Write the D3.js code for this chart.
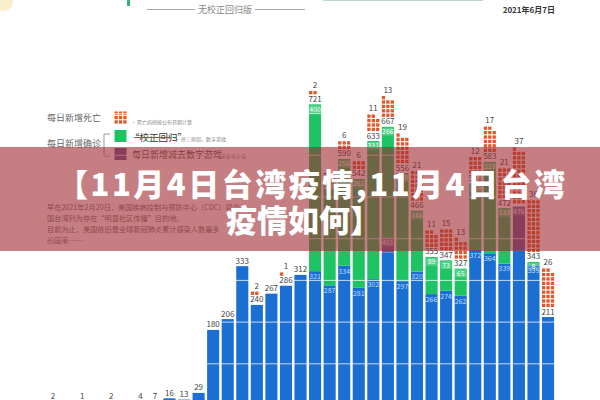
<!DOCTYPE html>
<html><head><meta charset="utf-8">
<script src="https://cdn.jsdelivr.net/npm/d3@7"></script>
<style>body{margin:0;background:#fff}svg{display:block}</style>
</head><body>
<svg id="c" width="600" height="400"></svg>
<script>
// ---------- data ----------
const dates = ["5/4","5/5","5/6","5/7","5/8","5/9","5/10","5/11","5/12","5/13","5/14","5/15","5/16","5/17","5/18","5/19","5/20","5/21","5/22","5/23","5/24","5/25","5/26","5/27","5/28","5/29","5/30","5/31","6/1","6/2","6/3","6/4","6/5","6/6","6/7"];
const localCases = [2,0,1,0,2,0,4,7,16,13,29,180,206,333,240,267,286,312,321,287,334,281,302,366,297,320,266,274,262,372,364,339,370,335,211];
const backlog    = [0,0,0,0,0,0,0,0,0,0,0,0,0,0,0,0,0,0,400,248,256,261,331,266,259,146,89,73,65,159,219,133,0,8,0];
const adjusted   = [0,0,0,0,0,0,0,0,0,0,0,0,0,0,0,0,0,0,0,0,0,0,0,35,0,0,0,0,0,0,0,0,106,0,0];
const deaths     = [0,0,0,0,0,0,0,0,0,0,0,0,0,0,2,0,1,0,2,0,6,6,11,13,19,21,11,15,13,12,17,21,37,36,26];
const gridTicks  = [100,200,300,400,500,600,700];

const C = {blue:"#1b6fd3", green:"#1ec464", purple:"#6b5b9e", orange:"#e2572b"};
const FONT = "'Noto Sans CJK SC','Noto Sans',sans-serif";

const svg = d3.select("#c").style("font-family", FONT);

const rows = dates.map((d,i)=>({date:d, blue:localCases[i], purple:adjusted[i], green:backlog[i], deaths:deaths[i]}));
const x = d3.scaleBand().domain(dates).range([45.72,555.32]).paddingInner(0.17).paddingOuter(0.085);
const y = d3.scaleLinear().domain([0,700]).range([405,113.1]);
const stack = d3.stack().keys(["blue","purple","green"])(rows);

// ---------- header ----------
const hdr = svg.append("g");
hdr.append("circle").attr("cx",4).attr("cy",2).attr("r",9).attr("fill","#f4e6a6").attr("opacity",0.6);
hdr.append("rect").attr("x",127).attr("y",0).attr("width",3).attr("height",6).attr("fill","#2bb673");
hdr.append("line").attr("x1",323).attr("x2",483).attr("y1",0.5).attr("y2",0.5).attr("stroke","#bcd8c8");
hdr.append("line").attr("x1",147).attr("x2",195).attr("y1",9.5).attr("y2",9.5).attr("stroke","#aaa");
hdr.append("line").attr("x1",255).attr("x2",305).attr("y1",9.5).attr("y2",9.5).attr("stroke","#aaa");
hdr.append("text").attr("x",225).attr("y",13).attr("text-anchor","middle").attr("font-size",9).attr("fill","#888").text("无校正回归版");
hdr.append("text").attr("x",555).attr("y",13).attr("text-anchor","end").attr("font-size",8).attr("font-weight","bold").attr("fill","#333").text("2021年6月7日");

// ---------- legend ----------
const lg = svg.append("g");
lg.append("text").attr("x",47).attr("y",121).attr("font-size",9).attr("fill","#666").text("每日新增死亡");
for(let r=0;r<3;r++)for(let c=0;c<3;c++)
  lg.append("rect").attr("x",114.5+c*4.4).attr("y",111.5+r*4.4).attr("width",3.3).attr("height",3.3).attr("fill",C.orange);
lg.append("text").attr("x",131).attr("y",124).attr("font-size",5).attr("fill","#888").text("• 死亡病例按公布日期计算");
lg.append("text").attr("x",47).attr("y",147).attr("font-size",9).attr("fill","#666").text("每日新增确诊");
lg.append("path").attr("d","M110,134H104V156H110").attr("fill","none").attr("stroke","#999");
lg.append("rect").attr("x",114.5).attr("y",130).attr("width",12).attr("height",12).attr("fill",C.green);
lg.append("text").attr("x",130).attr("y",141).attr("font-size",9.5).attr("fill","#333").text("“校正回归”");
lg.append("line").attr("x1",134).attr("x2",171).attr("y1",137.5).attr("y2",137.5).attr("stroke","#d23a3a").attr("stroke-width",1.2);
lg.append("text").attr("x",175).attr("y",141).attr("font-size",5).attr("fill","#888").text("• 修三原因，数字游戏");
lg.append("rect").attr("x",114.5).attr("y",148).attr("width",12).attr("height",12).attr("fill",C.purple);
lg.append("text").attr("x",132).attr("y",158).attr("font-size",9).attr("fill","#555").text("每日新增减去数字游戏");
lg.append("text").attr("x",215).attr("y",158).attr("font-size",5).attr("fill","#888").text("• 无参考价值");

const para = ["早在2021年2月20日，美国疾病控制与预防中心（CDC）将中",
              "国台湾列为存在“明显社区传播”目的地。",
              "目前为止，美国依旧是全球新冠肺炎累计感染人数最多",
              "的国家……"];
svg.append("g").selectAll("text").data(para).join("text")
  .attr("x",47).attr("y",(d,i)=>210+i*11).attr("font-size",7.2).attr("fill","#777").text(d=>d);

// ---------- bars ----------
const colorOf = {blue:C.blue, purple:C.purple, green:C.green};
svg.append("g").selectAll("g").data(stack).join("g").attr("fill",s=>colorOf[s.key])
  .selectAll("rect").data(s=>s.filter(d=>d[1]>d[0])).join("rect")
  .attr("x",d=>x(d.data.date)).attr("width",x.bandwidth())
  .attr("y",d=>y(d[1])).attr("height",d=>y(d[0])-y(d[1]));

// gridlines
svg.append("g").attr("transform","translate(40,0)")
  .call(d3.axisLeft(y).tickValues(gridTicks).tickSize(-520).tickFormat(""))
  .call(g=>g.select(".domain").remove())
  .selectAll("line").attr("stroke","#fff").attr("stroke-opacity",0.75);

// ---------- labels ----------
const lab = svg.append("g").attr("font-size",8).attr("text-anchor","middle");
rows.forEach(r=>{
  const total = r.blue + r.purple + r.green;
  if(total<=0) return;
  const cx = x(r.date) + x.bandwidth()/2;
  const showTotal = !(r.purple>0 && r.green===0);
  if(showTotal) lab.append("text").attr("x",cx).attr("y",Math.min(y(total)-2.5,398.5)).attr("fill","#444").text(total);
  if(r.green>0){
    lab.append("rect").attr("x",x(r.date)+0.5).attr("y",y(total)+0.8).attr("width",x.bandwidth()-1).attr("height",8)
      .attr("fill","#fff").attr("opacity",0.22);
    lab.append("text").attr("x",cx).attr("y",y(total)+7.3).attr("font-size",7).attr("fill","#fff").text(r.green);
  }
  if(r.purple>0){
    const top = y(r.blue + r.purple);
    lab.append("rect").attr("x",x(r.date)+0.5).attr("y",top+0.8).attr("width",x.bandwidth()-1).attr("height",8)
      .attr("fill","#fff").attr("opacity",0.18);
    lab.append("text").attr("x",cx).attr("y",top+7.3).attr("font-size",7).attr("fill","#eee").text(r.blue + r.purple);
  } else if(r.green>0){
    lab.append("text").attr("x",cx).attr("y",y(r.blue)+7.8).attr("font-size",7).attr("fill","#b9dcff").text(r.blue);
  }
  // deaths squares
  if(r.deaths>0){
    const base = showTotal ? y(total)-10 : y(total)-3;
    const nRows = Math.ceil(r.deaths/3);
    d3.range(r.deaths).forEach(k=>{
      const row = Math.floor(k/3), col = k%3;
      lab.append("rect").attr("x",x(r.date)+col*4.4).attr("y",base-3.3-row*4.4)
        .attr("width",3.3).attr("height",3.3).attr("fill",C.orange);
    });
    lab.append("text").attr("x",cx).attr("y",base-nRows*4.4-2).attr("fill","#444").text(r.deaths);
  }
});

// ---------- banner overlay ----------
svg.append("rect").attr("x",0).attr("y",147).attr("width",600).attr("height",104)
  .attr("fill","rgb(158,42,47)").attr("opacity",0.6);
svg.append("text").attr("x",57).attr("y",196).attr("font-size",31).attr("font-weight",900).attr("fill","#fff")
  .attr("textLength",508).attr("lengthAdjust","spacing").text("【11月4日台湾疫情,11月4日台湾");
svg.append("text").attr("x",226).attr("y",232).attr("font-size",31).attr("font-weight",900).attr("fill","#fff")
  .text("疫情如何】");
</script>
</body></html>
